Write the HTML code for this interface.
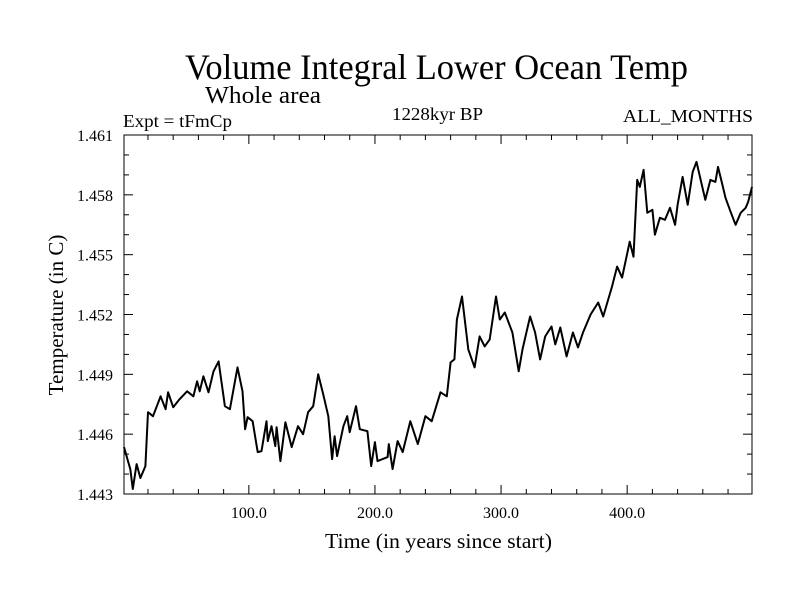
<!DOCTYPE html>
<html><head><meta charset="utf-8"><style>
html,body{margin:0;padding:0;background:#fff;}
svg{display:block;font-family:"Liberation Serif",serif;}
</style></head><body>
<svg id="chart" width="800" height="600" viewBox="0 0 800 600" xmlns="http://www.w3.org/2000/svg">
<rect width="800" height="600" fill="#fff"/>
<text x="185" y="79" font-size="36" textLength="503" lengthAdjust="spacingAndGlyphs">Volume Integral Lower Ocean Temp</text>
<text x="205" y="103" font-size="24" textLength="116" lengthAdjust="spacingAndGlyphs">Whole area</text>
<text x="123" y="127" font-size="18" textLength="109" lengthAdjust="spacingAndGlyphs">Expt = tFmCp</text>
<text x="392" y="120" font-size="18" textLength="91" lengthAdjust="spacingAndGlyphs">1228kyr BP</text>
<text x="623" y="122" font-size="18" textLength="130" lengthAdjust="spacingAndGlyphs">ALL_MONTHS</text>
<g id="axes"></g>
<g id="series"></g>
<rect x="124" y="135" width="628" height="359" fill="none" stroke="#000" stroke-width="1"/>
<text x="325" y="548" font-size="21" textLength="227" lengthAdjust="spacingAndGlyphs">Time (in years since start)</text>
<text transform="translate(63,315) rotate(-90)" text-anchor="middle" font-size="21">Temperature (in C)</text>
</svg>
<script>
const years = [1,6,8,11,14,18,20,24,30,34,36,40,45,51,56,59,61,64,68,72,76,81,85,91,95,97,99,103,107,110,114,115,118,121,122,125,129,134,139,143,147,151,155,159,163,166,168,170,175,178,180,185,188,194,197,200,202,210,211,214,218,222,228,234,240,245,252,257,260,263,265,269,274,279,283,287,291,296,299,303,309,314,317,323,327,331,335,340,343,347,352,357,361,365,371,377,381,388,392,396,402,405,408,410,413,416,420,422,426,430,434,438,440,444,448,452,455,462,466,470,472,475,478,482,486,490,494,496,499];
const temps = [1.44535,1.44425,1.44325,1.4445,1.4438,1.4444,1.4471,1.4469,1.4479,1.44725,1.4481,1.44735,1.44775,1.44815,1.4479,1.44865,1.44815,1.4489,1.4481,1.44915,1.44965,1.4474,1.44725,1.44935,1.44815,1.44625,1.44685,1.44665,1.4451,1.44515,1.44665,1.44565,1.4464,1.4454,1.44635,1.44465,1.4466,1.44535,1.4464,1.446,1.4471,1.4474,1.449,1.448,1.4469,1.44475,1.4459,1.4449,1.4464,1.4469,1.4461,1.4474,1.44625,1.44615,1.4444,1.4456,1.44465,1.44485,1.4455,1.44425,1.44565,1.4451,1.44665,1.4455,1.4469,1.44665,1.4481,1.4479,1.4496,1.44975,1.45175,1.4529,1.45025,1.44935,1.4509,1.4504,1.45075,1.4529,1.45175,1.4521,1.4511,1.44915,1.45025,1.4519,1.4511,1.44975,1.4509,1.4514,1.4505,1.45135,1.4499,1.4511,1.45035,1.4511,1.452,1.4526,1.4519,1.4534,1.4544,1.45385,1.45565,1.4549,1.45875,1.4584,1.45925,1.4571,1.45725,1.456,1.45685,1.45675,1.45735,1.4565,1.4575,1.4589,1.4575,1.45915,1.45965,1.45775,1.45875,1.45865,1.4594,1.45865,1.45785,1.45715,1.4565,1.4571,1.45735,1.45765,1.4584];
const xTickValues = [100,200,300,400];
const xTickLabels = ["100.0","200.0","300.0","400.0"];
const yTickValues = [1.443,1.446,1.449,1.452,1.455,1.458,1.461];
const yTickLabels = ["1.443","1.446","1.449","1.452","1.455","1.458","1.461"];

const L=124,R=752,T=135,B=494, X0=1,X1=499, Y0=1.443,Y1=1.461;
const sx=v=>L+(v-X0)/(X1-X0)*(R-L);
const sy=v=>B-(v-Y0)/(Y1-Y0)*(B-T);
const NS="http://www.w3.org/2000/svg";
const ax=document.getElementById('axes');
function ln(x1,y1,x2,y2){const l=document.createElementNS(NS,'line');l.setAttribute('x1',x1);l.setAttribute('y1',y1);l.setAttribute('x2',x2);l.setAttribute('y2',y2);l.setAttribute('stroke','#000');l.setAttribute('stroke-width','1');ax.appendChild(l);return l;}
for(let v=20;v<X1;v+=20){const x=sx(v);const len=(v%100===0)?9:5;
 const a=ln(x,B,x,B-len);
 const b=ln(x,T,x,T+len);}
for(let i=0;i<=18;i++){const v=Y0+i*0.001;const y=sy(v);const len=(i%3===0)?9:5;
 const a=ln(L,y,L+len,y);
 const b=ln(R,y,R-len,y);}
xTickValues.forEach((v,i)=>{const t=document.createElementNS(NS,'text');t.setAttribute('x',sx(v));t.setAttribute('y',518);t.setAttribute('text-anchor','middle');t.setAttribute('font-size','16');t.textContent=xTickLabels[i];
 
 
 ax.appendChild(t);});
yTickValues.forEach((v,i)=>{const t=document.createElementNS(NS,'text');t.setAttribute('x',113);t.setAttribute('y',sy(v)+6);t.setAttribute('text-anchor','end');t.setAttribute('font-size','16');t.textContent=yTickLabels[i];
 
 
 ax.appendChild(t);});
const p=document.createElementNS(NS,'path');
p.setAttribute('d',years.map((y,i)=>(i?'L':'M')+sx(y).toFixed(1)+','+sy(temps[i]).toFixed(1)).join(''));
p.setAttribute('fill','none');p.setAttribute('stroke','#000');p.setAttribute('stroke-width','2');p.setAttribute('stroke-linejoin','round');


document.getElementById('series').appendChild(p);
</script>
</body></html>
